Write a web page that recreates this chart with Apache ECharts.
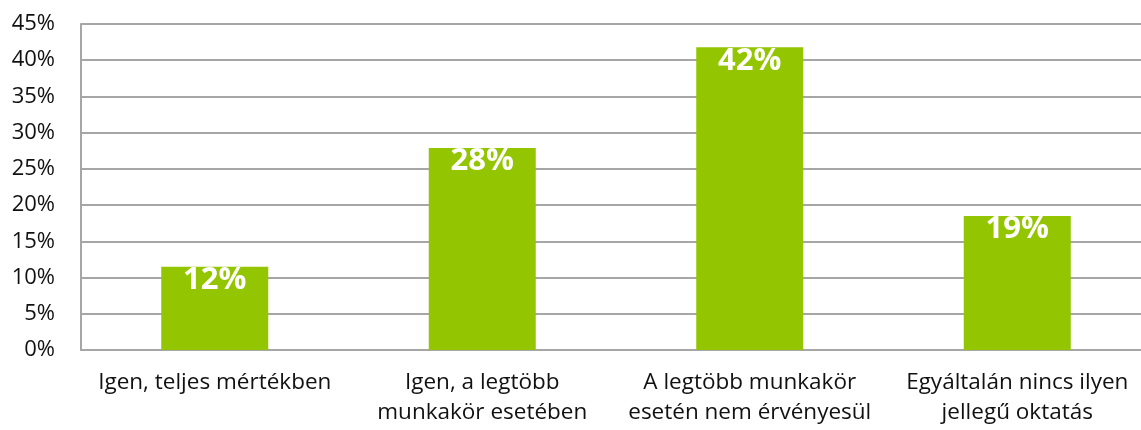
<!DOCTYPE html>
<html>
<head>
<meta charset="utf-8">
<script src="https://cdn.jsdelivr.net/npm/echarts@6/dist/echarts.min.js"></script>
<style>
  html, body { margin: 0; padding: 0; background: #fff; }
  #chart { width: 1141px; height: 430px; }
</style>
</head>
<body>
<div id="chart"></div>
<script>
// kategóriák és értékek (százalék)
const categories = [
  'Igen, teljes mértékben',
  'Igen, a legtöbb\nmunkakör esetében',
  'A legtöbb munkakör\nesetén nem érvényesül',
  'Egyáltalán nincs ilyen\njellegű oktatás'
]
const shares = [11.5, 27.9, 41.8, 18.5]
const shareLabels = ['12%', '28%', '42%', '19%']

const FONT = '"Open Sans", "DejaVu Sans", sans-serif'
const GRID_COLOR = '#a6a6a6'

const chart = echarts.init(document.getElementById('chart'))

chart.setOption({
  animation: false,
  // a rajzterület jobbra kicsit kilóg az eredeti képen
  grid: {
    left: 81, right: -10, top: 24, bottom: 80,
    containLabel: false,
    outerBoundsMode: 'none'
  },
  xAxis: {
    type: 'category',
    data: categories,
    axisTick: { show: false },
    axisLine: { lineStyle: { color: GRID_COLOR, width: 2 } },
    axisLabel: {
      color: '#111',
      fontFamily: FONT,
      fontSize: 22.5,
      lineHeight: 30,
      margin: 18,
      interval: 0
    }
  },
  yAxis: {
    type: 'value',
    min: 0,
    max: 45,
    interval: 5,
    axisLine: { show: true, lineStyle: { color: GRID_COLOR, width: 2 } },
    axisTick: { show: false },
    splitLine: { lineStyle: { color: GRID_COLOR, width: 2 } },
    axisLabel: {
      formatter: '{value}%',
      color: '#111',
      fontFamily: FONT,
      fontSize: 22,
      margin: 26
    }
  },
  series: [{
    type: 'bar',
    data: shares,
    barWidth: '40%',
    itemStyle: { color: '#93c500' },
    label: {
      show: true,
      position: 'insideTop',
      distance: -2,
      color: '#fff',
      fontFamily: FONT,
      fontWeight: 'bold',
      fontSize: 31,
      formatter: p => shareLabels[p.dataIndex]
    }
  }]
})
</script>
</body>
</html>
